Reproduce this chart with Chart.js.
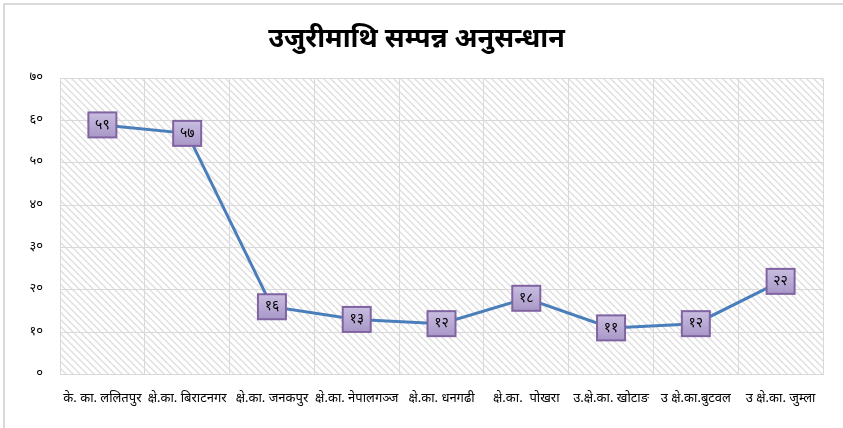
<!DOCTYPE html>
<html>
<head>
<meta charset="utf-8">
<script src="https://cdn.jsdelivr.net/npm/chart.js@4"></script>
<style>
  html, body { margin: 0; padding: 0; background: #fff; }
  #wrap { width: 843px; height: 428px; }
</style>
</head>
<body>
<div id="wrap"><canvas id="chart"></canvas></div>
<script>
// chart data
var titleText = 'उजुरीमाथि सम्पन्न अनुसन्धान';
var categories = [
    'के. का. ललितपुर', 'क्षे.का. बिराटनगर', 'क्षे.का. जनकपुर', 'क्षे.का. नेपालगञ्ज',
    'क्षे.का. धनगढी', 'क्षे.का.  पोखरा', 'उ.क्षे.का. खोटाङ', 'उ क्षे.का.बुटवल', 'उ क्षे.का. जुम्ला'
];
var cases = [59, 57, 16, 13, 12, 18, 11, 12, 22];
var yTicks = [0, 10, 20, 30, 40, 50, 60, 70];

var devDigits = ['०', '१', '२', '३', '४', '५', '६', '७', '८', '९'];
function toNepali(n) {
    return String(n).replace(/[0-9]/g, function (d) { return devDigits[+d]; });
}

var fontFamily = "'Noto Sans Devanagari', 'Lohit Devanagari', Mangal, 'Noto Sans', sans-serif";

// diagonal hatch behind the plot
function makeHatch(ctx) {
    var c = document.createElement('canvas');
    c.width = 7; c.height = 7;
    var g = c.getContext('2d');
    g.fillStyle = '#ffffff';
    g.fillRect(0, 0, 7, 7);
    g.strokeStyle = '#dddddd';
    g.lineWidth = 1.3;
    g.beginPath();
    g.moveTo(-1, -1); g.lineTo(8, 8);
    g.moveTo(-8, -1); g.lineTo(1, 8);
    g.moveTo(6, -1); g.lineTo(15, 8);
    g.stroke();
    return ctx.createPattern(c, 'repeat');
}

var backgroundPlugin = {
    id: 'bg',
    beforeDraw: function (chart) {
        var ctx = chart.ctx, a = chart.chartArea;
        ctx.save();
        ctx.strokeStyle = '#d9d9d9';
        ctx.lineWidth = 2;
        ctx.beginPath();
        ctx.moveTo(4, chart.height);
        ctx.lineTo(4, 4);
        ctx.lineTo(chart.width, 4);
        ctx.stroke();
        ctx.fillStyle = makeHatch(ctx);
        ctx.fillRect(a.left, a.top, a.right - a.left, a.bottom - a.top);
        ctx.restore();
    }
};

var boxLabelPlugin = {
    id: 'boxLabels',
    afterDatasetsDraw: function (chart) {
        var ctx = chart.ctx;
        var meta = chart.getDatasetMeta(0);
        ctx.save();
        meta.data.forEach(function (pt, i) {
            var w = 28, h = 25;
            var x = pt.x - w / 2, y = pt.y - h / 2;
            var grad = ctx.createLinearGradient(0, y, 0, y + h);
            grad.addColorStop(0, '#c9bde0');
            grad.addColorStop(1, '#a898c8');
            ctx.fillStyle = grad;
            ctx.fillRect(x, y, w, h);
            ctx.strokeStyle = '#8064a2';
            ctx.lineWidth = 2;
            ctx.strokeRect(x, y, w, h);
            ctx.fillStyle = '#000';
            ctx.font = '14px ' + fontFamily;
            ctx.textAlign = 'center';
            ctx.textBaseline = 'middle';
            ctx.fillText(toNepali(cases[i]), pt.x, pt.y + 1);
        });
        ctx.restore();
    }
};

new Chart(document.getElementById('chart'), {
    type: 'line',
    data: {
        labels: categories,
        datasets: [{
            data: cases,
            borderColor: '#4a7ebb',
            borderWidth: 3,
            pointRadius: 0,
            tension: 0
        }]
    },
    options: {
        responsive: true,
        maintainAspectRatio: false,
        animation: false,
        layout: { padding: { left: 10, right: 20, top: 0, bottom: 4 } },
        plugins: {
            legend: { display: false },
            tooltip: { enabled: false },
            title: {
                display: true,
                text: titleText,
                color: '#000',
                font: { family: fontFamily, size: 27, weight: 'bold' },
                padding: { top: 26, bottom: 20 }
            }
        },
        scales: {
            x: {
                offset: true,
                grid: { offset: true, color: '#d9d9d9', drawTicks: false },
                border: { color: '#d9d9d9' },
                ticks: {
                    color: '#000',
                    font: { family: fontFamily, size: 13 },
                    padding: 17,
                    maxRotation: 0,
                    autoSkip: false
                }
            },
            y: {
                min: 0,
                max: 70,
                afterBuildTicks: function (axis) {
                    axis.ticks = yTicks.map(function (v) { return { value: v }; });
                },
                afterFit: function (axis) { axis.width = 50; },
                grid: { color: '#d9d9d9', drawTicks: false },
                border: { color: '#d9d9d9' },
                ticks: {
                    color: '#000',
                    padding: 17,
                    font: { family: fontFamily, size: 13 },
                    callback: function (v) { return toNepali(v); }
                }
            }
        }
    },
    plugins: [backgroundPlugin, boxLabelPlugin]
});
</script>
</body>
</html>
